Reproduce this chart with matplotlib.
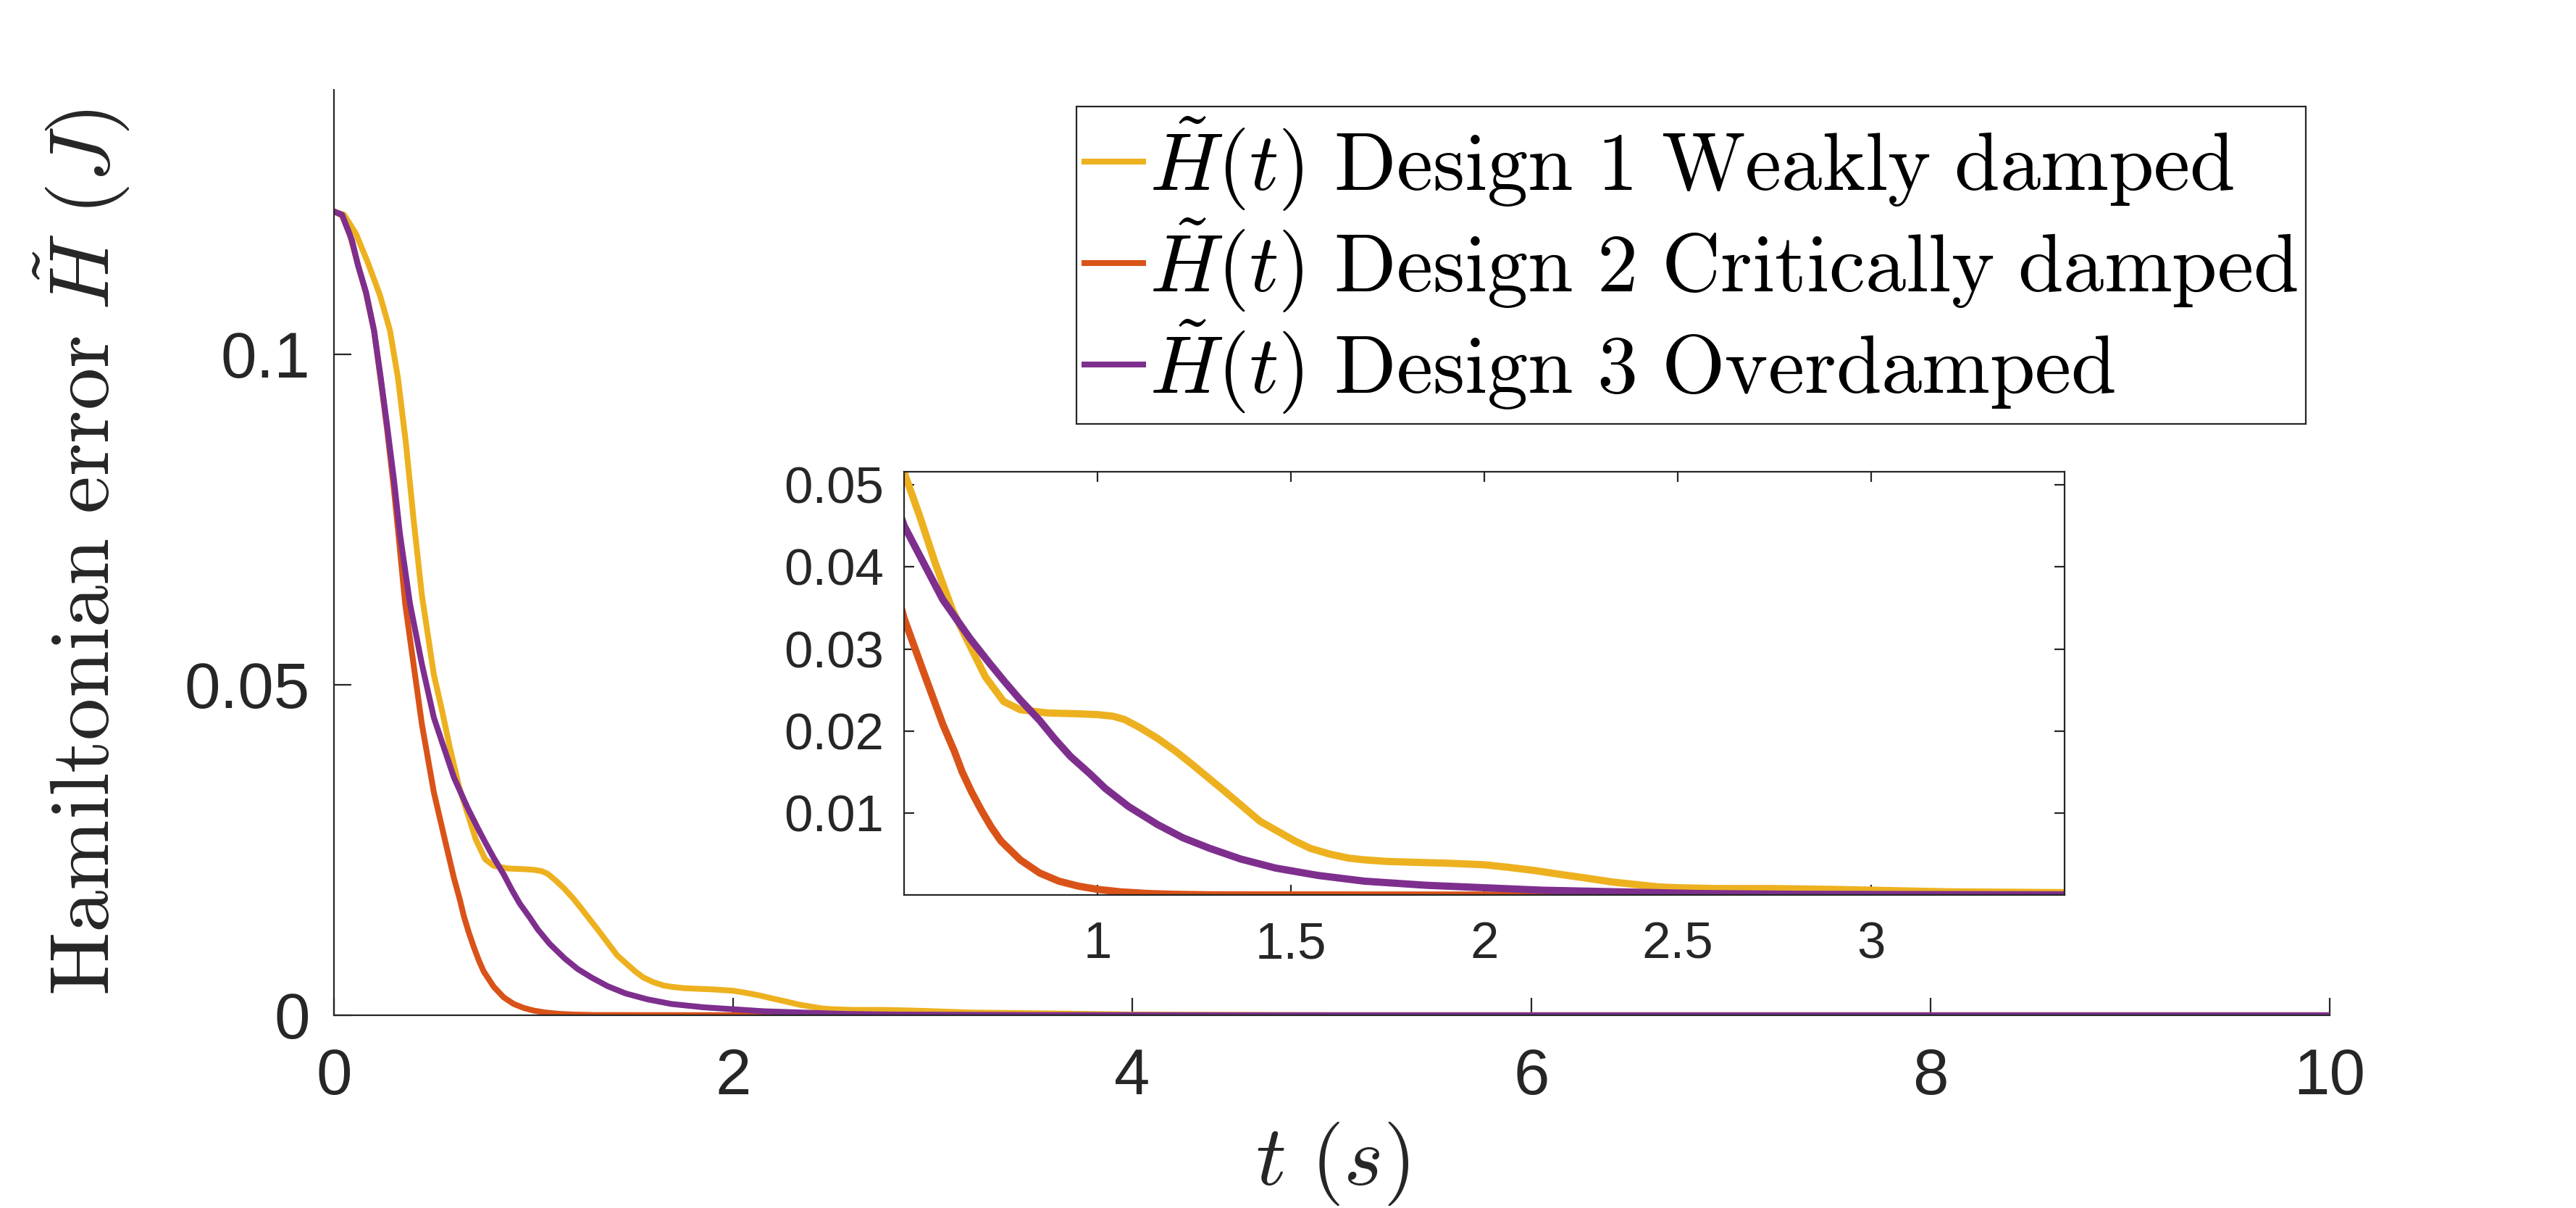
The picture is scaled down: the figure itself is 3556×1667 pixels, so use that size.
import matplotlib
matplotlib.use("Agg")
import matplotlib.pyplot as plt

# Design 1 - weakly damped
t_weak = [0, 0.05, 0.11, 0.17, 0.23, 0.28, 0.32, 0.36, 0.40, 0.44, 0.50, 0.54, 0.58, 0.625,
          0.67, 0.71, 0.757, 0.80, 0.87, 0.95, 1.0, 1.04, 1.07, 1.11, 1.155, 1.20, 1.24, 1.33,
          1.42, 1.51, 1.55, 1.60, 1.65, 1.69, 1.75, 1.82, 1.9, 2.0, 2.06, 2.13, 2.2, 2.26,
          2.33, 2.39, 2.45, 2.5, 2.6, 2.75, 2.9, 3.0, 3.2, 3.5, 4.0, 5.0, 10.0]
h_weak = [0.1216, 0.1211, 0.1182, 0.1138, 0.1089, 0.1036, 0.0964, 0.0865, 0.0745, 0.0635,
          0.0515, 0.0462, 0.0405, 0.0347, 0.0304, 0.0266, 0.0236, 0.0226, 0.0222, 0.0221,
          0.0220, 0.0218, 0.0214, 0.0204, 0.0191, 0.0176, 0.0161, 0.0126, 0.0090, 0.0066,
          0.0057, 0.0050, 0.0045, 0.0043, 0.0041, 0.0040, 0.0039, 0.0037, 0.0034, 0.0030,
          0.0025, 0.0021, 0.0016, 0.0013, 0.0010, 0.0009, 0.0008, 0.0008, 0.0007, 0.0006,
          0.0004, 0.0003, 0.0001, 0.0, 0.0]

# Design 2 - critically damped
t_crit = [0, 0.04, 0.08, 0.12, 0.16, 0.20, 0.234, 0.266, 0.30, 0.32, 0.356, 0.398, 0.44,
          0.50, 0.55, 0.60, 0.63, 0.65, 0.675, 0.70, 0.725, 0.75, 0.80, 0.85, 0.90, 0.95,
          1.0, 1.06, 1.13, 1.2, 1.3, 2.0, 10.0]
h_crit = [0.1216, 0.1210, 0.1180, 0.1135, 0.1092, 0.1036, 0.0960, 0.0885, 0.0795, 0.0735,
          0.0623, 0.0531, 0.0440, 0.0337, 0.0272, 0.0208, 0.0175, 0.0150, 0.0125, 0.0103,
          0.0083, 0.0066, 0.0043, 0.0027, 0.0017, 0.0011, 0.0007, 0.0004, 0.0002, 0.0001,
          0.00003, 0.0, 0.0]

# Design 3 - overdamped
t_over = [0, 0.04, 0.09, 0.12, 0.16, 0.20, 0.234, 0.266, 0.30, 0.33, 0.38, 0.44, 0.50, 0.55,
          0.60, 0.67, 0.72, 0.76, 0.80, 0.85, 0.89, 0.93, 0.98, 1.02, 1.08, 1.155, 1.22, 1.29,
          1.37, 1.46, 1.57, 1.69, 1.85, 2.0, 2.15, 2.35, 2.55, 2.8, 3.5, 4.5, 10.0]
h_over = [0.1216, 0.1211, 0.1172, 0.1134, 0.1094, 0.1036, 0.0964, 0.0891, 0.0810, 0.0728,
          0.0623, 0.0531, 0.0450, 0.0405, 0.0360, 0.0313, 0.0283, 0.0260, 0.0238, 0.0213,
          0.0190, 0.0169, 0.0148, 0.0130, 0.0108, 0.0086, 0.0070, 0.0057, 0.0044, 0.0033,
          0.0024, 0.0017, 0.0012, 0.0009, 0.0006, 0.0004, 0.0002, 0.0001, 0.00003, 0.0, 0.0]

labels = [r"$\tilde{H}(t)\ \mathrm{Design\ 1\ Weakly\ damped}$",
          r"$\tilde{H}(t)\ \mathrm{Design\ 2\ Critically\ damped}$",
          r"$\tilde{H}(t)\ \mathrm{Design\ 3\ Overdamped}$"]
colors = ["#EDB120", "#D95319", "#7E2F8E"]

main_xticks = [0, 2, 4, 6, 8, 10]
main_yticks = [0, 0.05, 0.1]
inset_xticks = [1, 1.5, 2, 2.5, 3]
inset_yticks = [0.01, 0.02, 0.03, 0.04, 0.05]

plt.rcParams["font.family"] = ["Liberation Sans", "DejaVu Sans"]
plt.rcParams["mathtext.fontset"] = "cm"
ink = "#262626"

fig = plt.figure(figsize=(17.78, 8.335), dpi=200)
ax = fig.add_axes([0.1297, 0.1596, 0.7747, 0.7660])

series = [(t_weak, h_weak), (t_crit, h_crit), (t_over, h_over)]
for (t, h), c, lab in zip(series, colors, labels):
    ax.plot(t, h, color=c, lw=2.9, label=lab)

ax.set_xlim(0, 10)
ax.set_ylim(0, 0.14)
ax.set_xticks(main_xticks)
ax.set_xticklabels([str(v) for v in main_xticks])
ax.set_yticks(main_yticks)
ax.set_yticklabels(["0", "0.05", "0.1"])
ax.spines["top"].set_visible(False)
ax.spines["right"].set_visible(False)
for s in ["left", "bottom"]:
    ax.spines[s].set_linewidth(0.8)
    ax.spines[s].set_color(ink)
ax.tick_params(direction="in", length=8.5, width=0.8, colors=ink, labelsize=32)
ax.tick_params(axis="x", pad=16)
ax.tick_params(axis="y", pad=12)
ax.set_xlabel(r"$t\ (s)$", fontsize=42, color=ink, labelpad=6)
ax.set_ylabel(r"$\mathrm{Hamiltonian\ error}\ \tilde{H}\ (J)$", fontsize=42, color=ink, labelpad=26)

leg = ax.legend(loc="upper left", bbox_to_anchor=(0.4179, 0.9118), bbox_transform=fig.transFigure,
                fontsize=40.5, handlelength=0.72, handletextpad=0.08, borderpad=0.1,
                labelspacing=0.05, borderaxespad=0, fancybox=False, framealpha=1)
leg.get_frame().set_edgecolor(ink)
leg.get_frame().set_linewidth(0.8)

# zoomed inset
axin = fig.add_axes([0.351, 0.259, 0.4505, 0.3505])
for (t, h), c in zip(series, colors):
    axin.plot(t, h, color=c, lw=3.6)
axin.set_xlim(0.5, 3.5)
axin.set_ylim(0, 0.0516)
axin.set_xticks(inset_xticks)
axin.set_xticklabels(["1", "1.5", "2", "2.5", "3"])
axin.set_yticks(inset_yticks)
axin.set_yticklabels(["0.01", "0.02", "0.03", "0.04", "0.05"])
for s in axin.spines.values():
    s.set_linewidth(0.8)
    s.set_color(ink)
axin.tick_params(direction="in", length=5, width=0.8, colors=ink, labelsize=25.5,
                 top=True, right=True)
axin.tick_params(axis="x", pad=13)
axin.tick_params(axis="y", pad=10)

fig.savefig("out.png", dpi=200)
